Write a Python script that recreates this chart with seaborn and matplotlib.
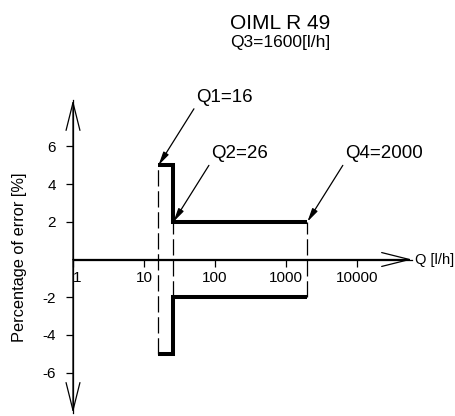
import numpy as np
import pandas as pd
import matplotlib
matplotlib.use("Agg")
import matplotlib.pyplot as plt
from matplotlib.ticker import NullLocator
import seaborn as sns

# ----- data (OIML R 49 water meter accuracy envelope) -----
flow_names  = ["Q1", "Q2", "Q4"]
flow_values = [16, 26, 2000]          # l/h
flow_limits = [5, 2, 2]               # max permissible error at that flow, %
q3 = 1600

step_q   = [16, 26, 26, 2000]         # upper envelope, mirrored for the lower one
step_err = [5, 5, 2, 2]

x_ticks  = [1, 10, 100, 1000, 10000]
x_labels = ["1", "10", "100", "1000", "10000"]
y_ticks  = [-6, -4, -2, 2, 4, 6]

# ----- layout (pixel geometry of the drawing) -----
W, H = 456, 416
X0_PX, DEC_PX = 73, 71        # x=1 position and pixels per decade
Y0_PX, UNIT_PX = 259.5, 18.85 # y=0 position and pixels per %
Y_TOP, Y_BOT = 8.46, -8.14    # arrow tips of the y axis
X_END = 10 ** 4.775           # arrow tip of the x axis

sns.set_style("ticks")
plt.rcParams["font.family"] = ["Liberation Sans", "DejaVu Sans"]
plt.rcParams["axes.unicode_minus"] = False
plt.rcParams["text.color"] = "black"

env = pd.DataFrame({
    "Q": step_q + step_q,
    "err": step_err + [-e for e in step_err],
    "band": ["upper"] * len(step_q) + ["lower"] * len(step_q),
})

fig = plt.figure(figsize=(W / 100, H / 100), dpi=100)
ax = fig.add_axes([0, 0, 1, 1])
ax.set_xscale("log")
ax.set_xlim(10 ** (-X0_PX / DEC_PX), 10 ** ((W - X0_PX) / DEC_PX))
ax.set_ylim(-(H - Y0_PX) / UNIT_PX, Y0_PX / UNIT_PX)

sns.lineplot(data=env, x="Q", y="err", units="band", estimator=None, sort=False,
             color="black", linewidth=2.9, ax=ax,
             solid_joinstyle="miter", solid_capstyle="butt")
ax.set_xlabel("")
ax.set_ylabel("")

# dashed verticals at the characteristic flows
for q, lim in zip(flow_values, flow_limits):
    ax.vlines(q, -lim, lim, colors="black", linewidth=0.9,
              linestyles=[(0, (13, 3.8))])

# axes through the origin
for side in ["top", "right"]:
    ax.spines[side].set_visible(False)
ax.spines["left"].set_position(("data", 1))
ax.spines["bottom"].set_position(("data", 0))
ax.spines["left"].set_bounds(Y_BOT, Y_TOP)
ax.spines["bottom"].set_bounds(1, X_END)
for side in ["left", "bottom"]:
    ax.spines[side].set_linewidth(0.9)
    ax.spines[side].set_color("black")

ax.set_yticks(y_ticks)
ax.set_yticklabels([str(t) for t in y_ticks])
ax.set_xticks(x_ticks)
ax.set_xticklabels(x_labels)
ax.xaxis.set_minor_locator(NullLocator())
ax.tick_params(axis="y", direction="out", length=5, width=0.9, pad=7.5,
               labelsize=11, colors="black")
ax.tick_params(axis="x", direction="out", length=5, width=0.9, pad=3.5,
               labelsize=11, colors="black")
ax.get_xticklabels()[0].set_horizontalalignment("left")

# open arrow heads on the axes
axis_arrow = dict(arrowstyle="->,head_length=20,head_width=5", mutation_scale=1,
                  lw=0.9, color="black", shrinkA=0, shrinkB=0)
ax.annotate("", xy=(1, Y_TOP), xytext=(1, 0), arrowprops=axis_arrow)
ax.annotate("", xy=(1, Y_BOT), xytext=(1, 0), arrowprops=axis_arrow)
ax.annotate("", xy=(X_END, 0), xytext=(1, 0), arrowprops=axis_arrow)

# flow labels with leader arrows to the envelope corners
leader = dict(arrowstyle="-|>,head_length=8,head_width=1.8", mutation_scale=1,
              lw=0.9, color="black", shrinkA=0, shrinkB=0, relpos=(0, 0))
for name, q, e in zip(flow_names, flow_values, flow_limits):
    ax.annotate(f"{name}={q}", xy=(q, e), xytext=(27, 43), textcoords="offset points",
                ha="left", va="bottom", fontsize=13.5, color="black", arrowprops=leader)

fig.text(280 / W, 1 - 23.5 / H, "OIML R 49", ha="center", va="center", fontsize=15)
fig.text(280 / W, 1 - 42.5 / H, f"Q3={q3}[l/h]", ha="center", va="center", fontsize=12.5)
fig.text(415 / W, 1 - 260 / H, "Q [l/h]", ha="left", va="center", fontsize=10.5)
fig.text(20 / W, 1 - 257 / H, "Percentage of error [%]", rotation=90,
         ha="center", va="center", fontsize=11.8)

fig.savefig("out.png", dpi=100)
